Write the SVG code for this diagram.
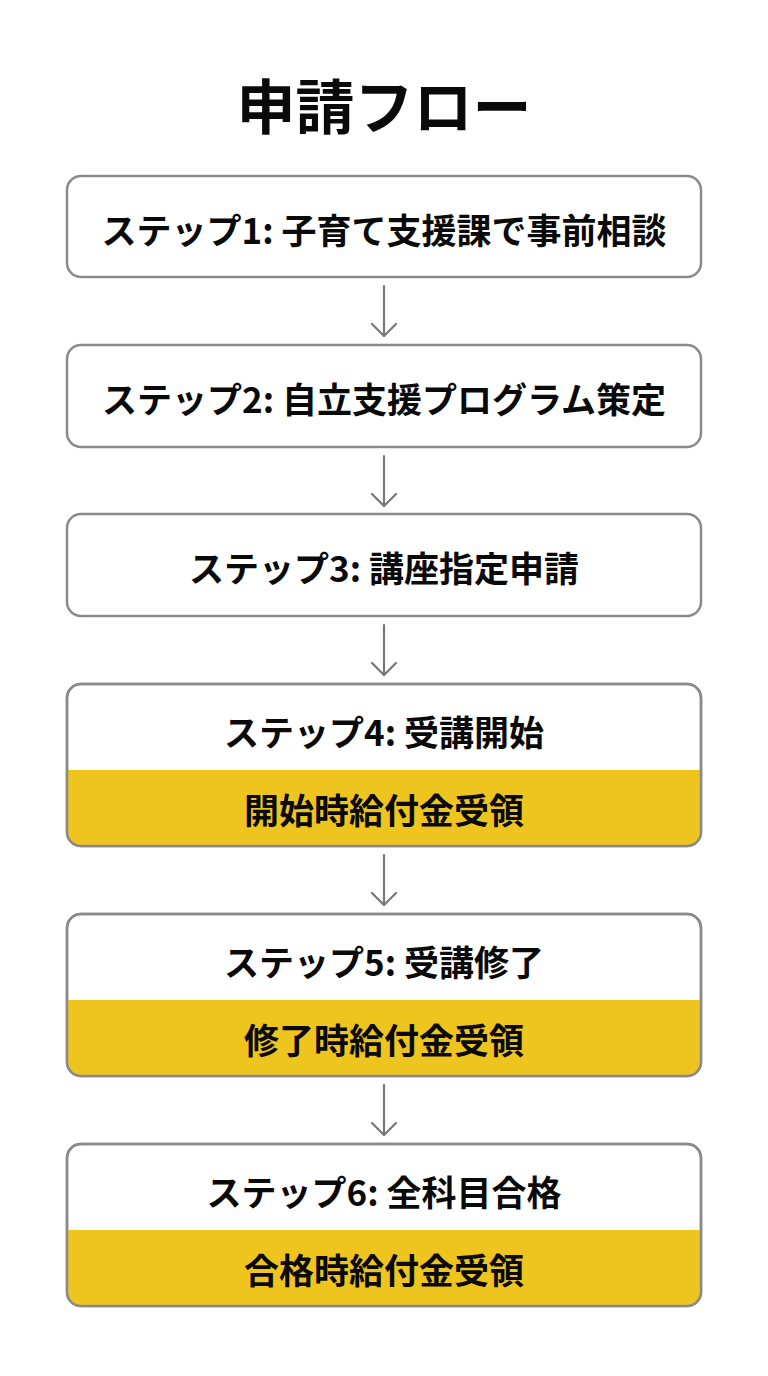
<svg xmlns="http://www.w3.org/2000/svg" width="768" height="1376" viewBox="0 0 768 1376">
<defs>
<style>
.t{font-family:"Noto Sans CJK JP","Noto Sans",sans-serif;font-weight:700;fill:#0a0a0a;text-anchor:middle;dominant-baseline:central}
.title{font-size:59px}
.s{font-size:35px}
.box{fill:#fff;stroke:#8a8a8a;stroke-width:2.5}
.frame{fill:none;stroke:#8a8a8a;stroke-width:2.5}
.yel{fill:#EEC41E}
.arr{stroke:#777;stroke-width:2.2;fill:none;stroke-linecap:round;stroke-linejoin:round}
</style>
</defs>
<rect width="768" height="1376" fill="#fff"/>
<text class="t title" x="384" y="103">申請フロー</text>

<g id="connectors">
<line class="arr" x1="384" y1="286" x2="384" y2="336"/>
<polyline class="arr" points="372,324 384,336 396,324"/>
<line class="arr" x1="384" y1="456" x2="384" y2="506"/>
<polyline class="arr" points="372,494 384,506 396,494"/>
<line class="arr" x1="384" y1="625" x2="384" y2="675"/>
<polyline class="arr" points="372,663 384,675 396,663"/>
<line class="arr" x1="384" y1="855" x2="384" y2="905"/>
<polyline class="arr" points="372,893 384,905 396,893"/>
<line class="arr" x1="384" y1="1085" x2="384" y2="1135"/>
<polyline class="arr" points="372,1123 384,1135 396,1123"/>
</g>

<g id="step1">
<rect class="box" x="67" y="176" width="634" height="101" rx="14"/>
<text class="t s" x="384" y="228">ステップ1: 子育て支援課で事前相談</text>
</g>
<g id="step2">
<rect class="box" x="67" y="345" width="634" height="102" rx="14"/>
<text class="t s" x="384" y="397">ステップ2: 自立支援プログラム策定</text>
</g>
<g id="step3">
<rect class="box" x="67" y="514" width="634" height="102" rx="14"/>
<text class="t s" x="384" y="566">ステップ3: 講座指定申請</text>
</g>
<g id="step4">
<rect class="box" x="67" y="684" width="634" height="162" rx="14"/>
<path class="yel" d="M67,770 H701 V832 Q701,846 687,846 H81 Q67,846 67,832 Z"/>
<rect class="frame" x="67" y="684" width="634" height="162" rx="14"/>
<text class="t s" x="384" y="730">ステップ4: 受講開始</text>
<text class="t s" x="384" y="808">開始時給付金受領</text>
</g>
<g id="step5">
<rect class="box" x="67" y="914" width="634" height="162" rx="14"/>
<path class="yel" d="M67,1000 H701 V1062 Q701,1076 687,1076 H81 Q67,1076 67,1062 Z"/>
<rect class="frame" x="67" y="914" width="634" height="162" rx="14"/>
<text class="t s" x="384" y="960">ステップ5: 受講修了</text>
<text class="t s" x="384" y="1038">修了時給付金受領</text>
</g>
<g id="step6">
<rect class="box" x="67" y="1144" width="634" height="162" rx="14"/>
<path class="yel" d="M67,1230 H701 V1292 Q701,1306 687,1306 H81 Q67,1306 67,1292 Z"/>
<rect class="frame" x="67" y="1144" width="634" height="162" rx="14"/>
<text class="t s" x="384" y="1190">ステップ6: 全科目合格</text>
<text class="t s" x="384" y="1268">合格時給付金受領</text>
</g>
</svg>
